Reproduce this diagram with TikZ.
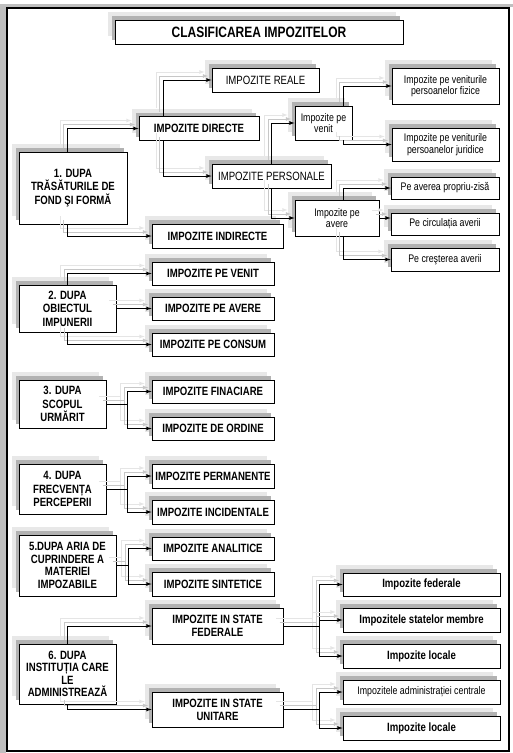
\documentclass[tikz,border=0pt]{standalone}
\usepackage{fontspec}
\setmainfont{Liberation Sans}[FakeStretch=0.8]
\usetikzlibrary{arrows}

\tikzset{
  umbra/.style={preaction={fill=black!9, draw=none, transform canvas={shift={(-7,-8)}}},
                preaction={fill=black!30, draw=none, transform canvas={shift={(-3.5,-4)}}}},
  marime/.style 2 args={minimum width=#1pt, minimum height=#2pt},
  caseta/.style={draw, thick, fill=white, umbra, align=center, inner sep=1pt},
  gros/.style={caseta, font=\bfseries\fontsize{12}{13}\selectfont},
  subtire/.style={caseta, font=\fontsize{12}{13}\selectfont},
  mic/.style={caseta, font=\fontsize{11}{11.5}\selectfont},
  grupa/.style={caseta, font=\bfseries\fontsize{12}{13.5}\selectfont},
  sageata/.style={-latex, thick,
    preaction={draw=black!10, transform canvas={shift={(-7,-8)}}},
    preaction={draw=black!22, transform canvas={shift={(-3.5,-4)}}}}
}

\begin{document}
\begin{tikzpicture}[x=1pt, y=-1pt]
	\useasboundingbox (0,0) rectangle (513,753);
	% chenar
	\fill[black!25] (0,4) rectangle (6,753);
	\fill[black!25] (0,4) rectangle (513,7);
	\draw[line width=1.2pt] (7,8) rectangle (509,751);
	% titlu
	\node[gros, marime={288}{24}, font=\bfseries\fontsize{15}{16}\selectfont] (titlu) at (259,32) {CLASIFICAREA IMPOZITELOR};
	% 1. trasaturi
	\node[grupa, marime={108}{72}] (g1) at (73,188) {1. DUPA\\TRĂSĂTURILE DE\\FOND ŞI FORMĂ};
	\node[subtire, marime={107}{24}] (real) at (265.5,80) {IMPOZITE REALE};
	\node[gros, marime={120}{24}] (dir) at (199,128.5) {IMPOZITE DIRECTE};
	\node[subtire, marime={119}{24}] (pers) at (271.5,176) {IMPOZITE PERSONALE};
	\node[gros, marime={131}{24}] (indir) at (217.5,236) {IMPOZITE INDIRECTE};
	\node[mic, marime={57}{34}] (venit) at (323.5,123) {Impozite pe\\venit};
	\node[mic, marime={84}{36}] (avere) at (337,218) {Impozite pe\\avere};
	\node[mic, marime={107}{36}] (fizice) at (445.5,86) {Impozite pe veniturile\\persoanelor fizice};
	\node[mic, marime={107}{33}] (juridice) at (445.5,144.5) {Impozite pe veniturile\\persoanelor juridice};
	\node[mic, marime={108}{22}] (propriu) at (445,188) {Pe averea propriu-zisă};
	\node[mic, marime={108}{22}] (circ) at (445,224) {Pe circulația averii};
	\node[mic, marime={108}{23}] (crest) at (445,259.5) {Pe creşterea averii};
	% 2. obiect
	\node[grupa, marime={97}{47}] (g2) at (67.5,308.5) {2. DUPA\\OBIECTUL\\IMPUNERII};
	\node[gros, marime={122}{23}] (pvenit) at (213,273.5) {IMPOZITE PE VENIT};
	\node[gros, marime={122}{23}] (pavere) at (213,308.5) {IMPOZITE PE AVERE};
	\node[gros, marime={122}{23}] (pconsum) at (213,344.5) {IMPOZITE PE CONSUM};
	% 3. scop
	\node[grupa, marime={87}{48}] (g3) at (62.5,404) {3. DUPA\\SCOPUL\\URMĂRIT};
	\node[gros, marime={122}{23}] (fin) at (213,391.5) {IMPOZITE FINACIARE};
	\node[gros, marime={122}{23}] (ord) at (213,428.5) {IMPOZITE DE ORDINE};
	% 4. frecventa
	\node[grupa, marime={87}{50}] (g4) at (62.5,489) {4. DUPA\\FRECVENȚA\\PERCEPERII};
	\node[gros, marime={122}{24}] (perm) at (213,476) {IMPOZITE PERMANENTE};
	\node[gros, marime={122}{24}] (incid) at (213,512) {IMPOZITE INCIDENTALE};
	% 5. aria
	\node[grupa, marime={97}{61}, font=\bfseries\fontsize{12}{12.5}\selectfont] (g5) at (67.5,565.5) {5.DUPA ARIA DE\\CUPRINDERE A\\MATERIEI\\IMPOZABILE};
	\node[gros, marime={122}{23}] (anal) at (213,548.5) {IMPOZITE ANALITICE};
	\node[gros, marime={122}{24}] (sint) at (213,584) {IMPOZITE SINTETICE};
	% 6. institutia
	\node[grupa, marime={97}{60}, font=\bfseries\fontsize{12}{12.5}\selectfont] (g6) at (67.5,674) {6. DUPA\\INSTITUȚIA CARE\\LE\\ADMINISTREAZĂ};
	\node[gros, marime={131}{36}] (fed) at (217.5,626) {IMPOZITE IN STATE\\FEDERALE};
	\node[gros, marime={131}{35}] (unit) at (217.5,709.5) {IMPOZITE IN STATE\\UNITARE};
	\node[gros, marime={157}{23}] (ifed) at (421.5,584.5) {Impozite federale};
	\node[gros, marime={157}{24}] (membre) at (421.5,620) {Impozitele statelor membre};
	\node[gros, marime={157}{24}] (loc1) at (421.5,656) {Impozite locale};
	\node[mic, marime={157}{24}] (admin) at (421.5,692) {Impozitele administrației centrale};
	\node[gros, marime={157}{24}] (loc2) at (421.5,728) {Impozite locale};
	% legaturi
	\draw[sageata] ([xshift=-6pt]g1.north) |- (dir.west);
	\draw[sageata] ([xshift=-6pt]g1.south) |- (indir.west);
	\draw[sageata] ([xshift=-36pt]dir.north) |- (real.west);
	\draw[sageata] ([xshift=-36pt]dir.south) |- (pers.west);
	\draw[sageata] (pers.north) |- (venit.west);
	\draw[sageata] (pers.south) |- (avere.west);
	\draw[sageata] ([xshift=19.5pt]venit.north) |- (fizice.west);
	\draw[sageata] ([xshift=19.5pt]venit.south) |- (juridice.west);
	\draw[sageata] ([xshift=6pt]avere.north) |- (propriu.west);
	\draw[sageata] (avere.east) -- (avere.east -| circ.west);
	\draw[sageata] ([xshift=6pt]avere.south) |- (crest.west);
	\draw[sageata] (g2.north) |- (pvenit.west);
	\draw[sageata] (g2.east) -- (pavere.west);
	\draw[sageata] (g2.south) |- (pconsum.west);
	\draw[sageata] (g3.east) -- ++(21,0) |- (fin.west);
	\draw[sageata] (g3.east) -- ++(21,0) |- (ord.west);
	\draw[sageata] (g4.east) -- ++(21,0) |- (perm.west);
	\draw[sageata] (g4.east) -- ++(21,0) |- (incid.west);
	\draw[sageata] (g5.east) -- ++(12,0) |- (anal.west);
	\draw[sageata] (g5.east) -- ++(12,0) |- (sint.west);
	\draw[sageata] (g6.north) |- (fed.west);
	\draw[sageata] (g6.south) |- (unit.west);
	\draw[sageata] (fed.east) -- ++(36,0) |- (ifed.west);
	\draw[sageata] (fed.east) -- ++(36,0) |- (membre.west);
	\draw[sageata] (fed.east) -- ++(36,0) |- (loc1.west);
	\draw[sageata] (unit.east) -- ++(36,0) |- (admin.west);
	\draw[sageata] (unit.east) -- ++(36,0) |- (loc2.west);
\end{tikzpicture}
\end{document}
